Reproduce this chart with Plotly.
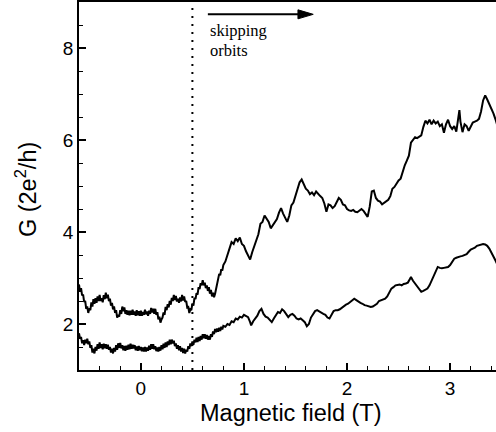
import plotly.graph_objects as go

# Conductance vs magnetic field: (B [T], G [2e^2/h])
UPPER = [
    (-0.60, 2.86), (-0.59, 2.70), (-0.58, 2.78), (-0.57, 2.62), (-0.56, 2.64), (-0.55, 2.48),
    (-0.54, 2.50), (-0.53, 2.33), (-0.52, 2.38), (-0.51, 2.24), (-0.50, 2.34), (-0.49, 2.30),
    (-0.48, 2.47), (-0.47, 2.38), (-0.46, 2.54), (-0.45, 2.44), (-0.44, 2.56), (-0.43, 2.46),
    (-0.42, 2.60), (-0.41, 2.50), (-0.40, 2.63), (-0.39, 2.50), (-0.38, 2.56), (-0.37, 2.47),
    (-0.36, 2.63), (-0.35, 2.54), (-0.34, 2.68), (-0.33, 2.56), (-0.32, 2.64), (-0.31, 2.50),
    (-0.30, 2.55), (-0.29, 2.40), (-0.28, 2.46), (-0.27, 2.32), (-0.26, 2.38), (-0.25, 2.24),
    (-0.24, 2.30), (-0.23, 2.14), (-0.22, 2.20), (-0.21, 2.16), (-0.20, 2.30), (-0.19, 2.22),
    (-0.18, 2.38), (-0.17, 2.28), (-0.16, 2.36), (-0.15, 2.22), (-0.14, 2.30), (-0.13, 2.20),
    (-0.12, 2.29), (-0.11, 2.19), (-0.10, 2.29), (-0.09, 2.20), (-0.08, 2.31), (-0.07, 2.20),
    (-0.06, 2.27), (-0.05, 2.18), (-0.04, 2.30), (-0.03, 2.19), (-0.02, 2.28), (-0.01, 2.18),
    (0.00, 2.29), (0.01, 2.18), (0.02, 2.26), (0.03, 2.20), (0.04, 2.31), (0.05, 2.21),
    (0.06, 2.27), (0.07, 2.18), (0.08, 2.29), (0.09, 2.22), (0.10, 2.35), (0.11, 2.25),
    (0.12, 2.33), (0.13, 2.22), (0.14, 2.33), (0.15, 2.20), (0.16, 2.26), (0.17, 2.10),
    (0.18, 2.16), (0.19, 2.03), (0.20, 2.10), (0.21, 2.14), (0.22, 2.25), (0.23, 2.20),
    (0.24, 2.37), (0.25, 2.30), (0.26, 2.43), (0.27, 2.36), (0.28, 2.50), (0.29, 2.42),
    (0.30, 2.57), (0.31, 2.50), (0.32, 2.63), (0.33, 2.52), (0.34, 2.61), (0.35, 2.49),
    (0.36, 2.55), (0.37, 2.46), (0.38, 2.58), (0.39, 2.49), (0.40, 2.63), (0.41, 2.51),
    (0.42, 2.60), (0.43, 2.48), (0.44, 2.50), (0.45, 2.36), (0.46, 2.37), (0.47, 2.24),
    (0.48, 2.32), (0.49, 2.30), (0.50, 2.45), (0.51, 2.40), (0.52, 2.57), (0.53, 2.54),
    (0.54, 2.67), (0.55, 2.64), (0.56, 2.80), (0.57, 2.76), (0.58, 2.89), (0.59, 2.84),
    (0.60, 2.95), (0.61, 2.84), (0.62, 2.90), (0.63, 2.78), (0.64, 2.84), (0.65, 2.72),
    (0.66, 2.80), (0.67, 2.66), (0.68, 2.74), (0.69, 2.60), (0.70, 2.68), (0.71, 2.58),
    (0.72, 2.66), (0.73, 2.76), (0.74, 2.92), (0.75, 2.96), (0.76, 3.09), (0.77, 3.06),
    (0.78, 3.19), (0.79, 3.16), (0.80, 3.28),
    (0.82, 3.36), (0.84, 3.50), (0.86, 3.68), (0.88, 3.78), (0.90, 3.74), (0.92, 3.86),
    (0.94, 3.80), (0.96, 3.88), (0.98, 3.74), (1.00, 3.70), (1.02, 3.58), (1.04, 3.50),
    (1.06, 3.40), (1.08, 3.56), (1.10, 3.70), (1.12, 3.84), (1.14, 3.95), (1.16, 4.18),
    (1.18, 4.22), (1.20, 4.36), (1.22, 4.30), (1.24, 4.22), (1.26, 4.08), (1.28, 4.14),
    (1.30, 4.20), (1.32, 4.28), (1.34, 4.42), (1.36, 4.52), (1.38, 4.40), (1.40, 4.30),
    (1.42, 4.22), (1.44, 4.36), (1.46, 4.58), (1.48, 4.64), (1.50, 4.80), (1.52, 4.98),
    (1.54, 5.08), (1.56, 5.14), (1.58, 5.02), (1.60, 4.94), (1.62, 4.90), (1.64, 4.82),
    (1.66, 4.86), (1.68, 4.80), (1.70, 4.88), (1.72, 4.82), (1.74, 4.78), (1.76, 4.74),
    (1.78, 4.62), (1.80, 4.44), (1.82, 4.60), (1.84, 4.58), (1.86, 4.52), (1.88, 4.56),
    (1.90, 4.66), (1.92, 4.74), (1.94, 4.70), (1.96, 4.60), (1.98, 4.58), (2.00, 4.50),
    (2.02, 4.47), (2.04, 4.46), (2.06, 4.48), (2.08, 4.44), (2.10, 4.43), (2.12, 4.46),
    (2.14, 4.50), (2.16, 4.46), (2.18, 4.38), (2.20, 4.33), (2.22, 4.55), (2.24, 4.88),
    (2.26, 4.90), (2.28, 4.74), (2.30, 4.68), (2.32, 4.66), (2.34, 4.60), (2.36, 4.64),
    (2.38, 4.66), (2.40, 4.70), (2.42, 4.78), (2.44, 4.94), (2.46, 4.98), (2.48, 5.06),
    (2.50, 5.12), (2.52, 5.16), (2.54, 5.32), (2.56, 5.45), (2.58, 5.55), (2.60, 5.66),
    (2.62, 5.94), (2.64, 6.00), (2.66, 6.06), (2.68, 6.04), (2.70, 6.08), (2.72, 6.10),
    (2.74, 6.28), (2.76, 6.42), (2.78, 6.36), (2.80, 6.44), (2.82, 6.34), (2.84, 6.42),
    (2.86, 6.36), (2.88, 6.40), (2.90, 6.30), (2.92, 6.34), (2.94, 6.16), (2.96, 6.34),
    (2.98, 6.44), (3.00, 6.30), (3.02, 6.24), (3.04, 6.30), (3.06, 6.18), (3.08, 6.48),
    (3.09, 6.65), (3.10, 6.40), (3.12, 6.17), (3.14, 6.34), (3.16, 6.30), (3.18, 6.20),
    (3.20, 6.30), (3.22, 6.38), (3.24, 6.40), (3.26, 6.42), (3.28, 6.46), (3.30, 6.62),
    (3.32, 6.86), (3.34, 6.97), (3.36, 6.88), (3.38, 6.78), (3.40, 6.70), (3.42, 6.58),
    (3.44, 6.45), (3.46, 6.30),
]

LOWER = [
    (-0.60, 1.80), (-0.59, 1.68), (-0.58, 1.72), (-0.57, 1.58), (-0.56, 1.65), (-0.55, 1.54),
    (-0.54, 1.66), (-0.53, 1.58), (-0.52, 1.68), (-0.51, 1.56), (-0.50, 1.62), (-0.49, 1.48),
    (-0.48, 1.54), (-0.47, 1.38), (-0.46, 1.46), (-0.45, 1.36), (-0.44, 1.50), (-0.43, 1.42),
    (-0.42, 1.56), (-0.41, 1.46), (-0.40, 1.60), (-0.39, 1.48), (-0.38, 1.56), (-0.37, 1.45),
    (-0.36, 1.57), (-0.35, 1.47), (-0.34, 1.56), (-0.33, 1.46), (-0.32, 1.55), (-0.31, 1.44),
    (-0.30, 1.50), (-0.29, 1.38), (-0.28, 1.46), (-0.27, 1.36), (-0.26, 1.48), (-0.25, 1.40),
    (-0.24, 1.54), (-0.23, 1.44), (-0.22, 1.58), (-0.21, 1.48), (-0.20, 1.59), (-0.19, 1.47),
    (-0.18, 1.54), (-0.17, 1.43), (-0.16, 1.52), (-0.15, 1.42), (-0.14, 1.53), (-0.13, 1.44),
    (-0.12, 1.55), (-0.11, 1.45), (-0.10, 1.57), (-0.09, 1.46), (-0.08, 1.55), (-0.07, 1.47),
    (-0.06, 1.54), (-0.05, 1.43), (-0.04, 1.51), (-0.03, 1.42), (-0.02, 1.52), (-0.01, 1.43),
    (0.00, 1.50), (0.01, 1.41), (0.02, 1.49), (0.03, 1.40), (0.04, 1.50), (0.05, 1.40),
    (0.06, 1.49), (0.07, 1.42), (0.08, 1.53), (0.09, 1.44), (0.10, 1.56), (0.11, 1.46),
    (0.12, 1.56), (0.13, 1.45), (0.14, 1.52), (0.15, 1.41), (0.16, 1.49), (0.17, 1.40),
    (0.18, 1.50), (0.19, 1.42), (0.20, 1.54), (0.21, 1.45), (0.22, 1.57), (0.23, 1.48),
    (0.24, 1.60), (0.25, 1.50), (0.26, 1.62), (0.27, 1.54), (0.28, 1.66), (0.29, 1.56),
    (0.30, 1.66), (0.31, 1.58), (0.32, 1.64), (0.33, 1.52), (0.34, 1.58), (0.35, 1.46),
    (0.36, 1.54), (0.37, 1.43), (0.38, 1.52), (0.39, 1.40), (0.40, 1.48), (0.41, 1.37),
    (0.42, 1.46), (0.43, 1.36), (0.44, 1.44), (0.45, 1.40), (0.46, 1.52), (0.47, 1.46),
    (0.48, 1.58), (0.49, 1.52), (0.50, 1.62), (0.51, 1.55), (0.52, 1.66), (0.53, 1.60),
    (0.54, 1.70), (0.55, 1.61), (0.56, 1.72), (0.57, 1.63), (0.58, 1.74), (0.59, 1.66),
    (0.60, 1.78), (0.61, 1.69), (0.62, 1.78), (0.63, 1.68), (0.64, 1.76), (0.65, 1.66),
    (0.66, 1.74), (0.67, 1.66), (0.68, 1.78), (0.69, 1.72), (0.70, 1.84), (0.71, 1.78),
    (0.72, 1.89), (0.73, 1.82), (0.74, 1.90), (0.75, 1.83), (0.76, 1.92), (0.77, 1.85),
    (0.78, 1.94), (0.79, 1.88), (0.80, 1.96),
    (0.82, 1.94), (0.84, 2.00), (0.86, 1.98), (0.88, 2.06), (0.90, 2.04), (0.92, 2.12),
    (0.94, 2.10), (0.96, 2.16), (0.98, 2.14), (1.00, 2.20), (1.02, 2.18), (1.04, 2.15),
    (1.06, 2.04), (1.07, 1.97), (1.09, 2.06), (1.11, 2.12), (1.13, 2.18), (1.15, 2.28),
    (1.17, 2.33), (1.19, 2.22), (1.21, 2.16), (1.23, 2.14), (1.25, 2.08), (1.27, 2.04),
    (1.29, 2.12), (1.31, 2.20), (1.33, 2.26), (1.35, 2.24), (1.37, 2.32), (1.39, 2.28),
    (1.41, 2.20), (1.43, 2.15), (1.45, 2.20), (1.47, 2.22), (1.49, 2.18), (1.51, 2.12),
    (1.53, 2.10), (1.55, 2.12), (1.57, 2.08), (1.59, 2.04), (1.61, 1.95), (1.63, 2.00),
    (1.65, 2.14), (1.67, 2.22), (1.69, 2.28), (1.71, 2.30), (1.73, 2.27), (1.75, 2.24),
    (1.77, 2.22), (1.79, 2.20), (1.81, 2.14), (1.83, 2.12), (1.85, 2.20), (1.87, 2.28),
    (1.89, 2.30), (1.91, 2.30), (1.93, 2.32), (1.95, 2.36), (1.97, 2.40), (1.99, 2.42),
    (2.01, 2.44), (2.03, 2.48), (2.05, 2.52), (2.07, 2.55), (2.09, 2.52), (2.11, 2.48),
    (2.13, 2.46), (2.15, 2.44), (2.17, 2.41), (2.19, 2.40), (2.21, 2.38), (2.23, 2.37),
    (2.25, 2.38), (2.27, 2.41), (2.29, 2.44), (2.31, 2.50), (2.33, 2.52), (2.35, 2.53),
    (2.37, 2.55), (2.39, 2.60), (2.41, 2.70), (2.43, 2.77), (2.45, 2.80), (2.47, 2.84),
    (2.49, 2.85), (2.51, 2.86), (2.53, 2.84), (2.55, 2.87), (2.57, 2.88), (2.59, 2.90),
    (2.61, 2.98), (2.62, 3.02), (2.64, 2.94), (2.66, 2.88), (2.68, 2.82), (2.70, 2.76),
    (2.72, 2.70), (2.74, 2.72), (2.76, 2.75), (2.78, 2.77), (2.80, 2.84), (2.82, 2.94),
    (2.84, 3.04), (2.86, 3.14), (2.88, 3.24), (2.90, 3.22), (2.92, 3.21), (2.94, 3.22),
    (2.96, 3.23), (2.98, 3.24), (3.00, 3.28), (3.02, 3.36), (3.04, 3.42), (3.06, 3.44),
    (3.08, 3.46), (3.10, 3.47), (3.12, 3.48), (3.14, 3.50), (3.16, 3.52), (3.18, 3.57),
    (3.20, 3.62), (3.22, 3.64), (3.24, 3.66), (3.26, 3.70), (3.28, 3.71), (3.30, 3.72),
    (3.32, 3.74), (3.34, 3.73), (3.36, 3.70), (3.38, 3.64), (3.40, 3.56), (3.42, 3.46),
    (3.44, 3.38), (3.46, 3.28),
]

X_TICKS = [0, 1, 2, 3]
Y_TICKS = [2, 4, 6, 8]
B_ONSET = 0.5           # dotted line: onset of skipping orbits
X_RANGE = [-0.6, 3.445]
Y_RANGE = [1, 9]

SANS = "Liberation Sans, Arial, sans-serif"
SERIF = "Liberation Serif, Times New Roman, serif"

fig = go.Figure()
for pts in (UPPER, LOWER):
    fig.add_trace(go.Scatter(
        x=[p[0] for p in pts], y=[p[1] for p in pts],
        mode="lines", line=dict(color="black", width=2),
        showlegend=False, hoverinfo="skip"))

axis_common = dict(
    showline=True, linecolor="black", linewidth=1.5,
    ticks="inside", ticklen=7, tickwidth=1.5, tickcolor="black",
    showgrid=False, zeroline=False, automargin=False,
    tickfont=dict(family=SANS, size=19, color="black"),
)

fig.update_layout(
    width=496, height=432,
    margin=dict(l=79, r=0, t=2, b=62),
    paper_bgcolor="white", plot_bgcolor="white",
    xaxis=dict(range=X_RANGE, tickmode="array", tickvals=X_TICKS, mirror=True,
               minor=dict(tickmode="linear", tick0=0, dtick=0.2, ticks="inside",
                          ticklen=4, tickwidth=1.2, tickcolor="black", showgrid=False),
               **axis_common),
    yaxis=dict(range=Y_RANGE, tickmode="array", tickvals=Y_TICKS,
               minor=dict(tickmode="linear", tick0=0, dtick=0.5, ticks="inside",
                          ticklen=4, tickwidth=1.2, tickcolor="black", showgrid=False),
               **axis_common),
)

# dotted vertical line at the onset
fig.add_shape(type="line", xref="x", yref="paper", x0=B_ONSET, x1=B_ONSET, y0=0, y1=1,
              line=dict(color="black", width=2, dash="2px,6px"))

# arrow "skipping orbits"
fig.add_shape(type="line", xref="x", yref="y", x0=0.65, x1=1.53, y0=8.732, y1=8.732,
              line=dict(color="black", width=2))
fig.add_shape(type="path", xref="x", yref="y",
              path="M1.524,8.830 L1.672,8.732 L1.524,8.634 Z",
              fillcolor="black", line=dict(color="black", width=1))

fig.add_annotation(text="skipping", xref="x", yref="y", x=0.655, y=8.37,
                   xanchor="left", yanchor="middle", showarrow=False,
                   font=dict(family=SERIF, size=16.5, color="black"))
fig.add_annotation(text="orbits", xref="x", yref="y", x=0.655, y=7.955,
                   xanchor="left", yanchor="middle", showarrow=False,
                   font=dict(family=SERIF, size=16.5, color="black"))

# axis titles
fig.add_annotation(text="Magnetic field (T)", xref="paper", yref="paper",
                   x=0.508, y=-0.1155, xanchor="center", yanchor="middle",
                   showarrow=False, font=dict(family=SANS, size=23.5, color="black"))
fig.add_annotation(text="G (2e<sup>2</sup>/h)", xref="paper", yref="paper",
                   x=-0.127, y=0.489, xanchor="center", yanchor="middle", textangle=-90,
                   showarrow=False, font=dict(family=SANS, size=23.5, color="black"))

fig.write_html("out.html", config={"displayModeBar": False},
               post_script="document.body.style.margin='0';")
